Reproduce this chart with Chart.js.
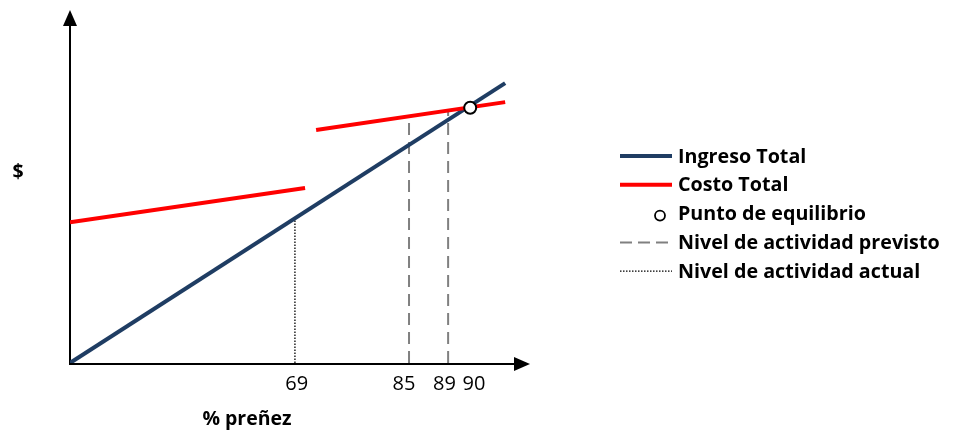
<!DOCTYPE html>
<html>
<head>
<meta charset="utf-8">
<script src="https://cdn.jsdelivr.net/npm/chart.js@4/dist/chart.umd.min.js"></script>
<style>
  html, body { margin: 0; padding: 0; background: #fff; }
  #wrap { width: 954px; height: 434px; }
</style>
</head>
<body>
<div id="wrap"><canvas id="chart" width="954" height="434"></canvas></div>
<script>
// --- DATA (schematic axis units, 0-100 on both axes) ---
const ingresoX = [0, 94.6];
const ingresoY = [0, 79.3];
const costoBajoX = [0, 51.1];
const costoBajoY = [39.9, 49.6];
const costoAltoX = [53.5, 94.6];
const costoAltoY = [66.0, 73.9];
const equilibrioX = [87.0];
const equilibrioY = [72.3];
const previstoX = [73.7, 82.2];
const previstoTop = [69.9, 71.7];
const actualX = [48.9];
const actualTop = [41.0];
const tickPositions = [49.3, 72.6, 81.4, 87.8];
const tickLabels = ['69', '85', '89', '90'];

const xTitle = '% preñez';
const yTitle = '$';

const legendItems = [
  { text: 'Ingreso Total', kind: 'line', color: '#1f3d63' },
  { text: 'Costo Total', kind: 'line', color: '#ff0000' },
  { text: 'Punto de equilibrio', kind: 'circle', color: '#000' },
  { text: 'Nivel de actividad previsto', kind: 'dash', color: '#808080' },
  { text: 'Nivel de actividad actual', kind: 'dot', color: '#000' }
];

const pts = (xs, ys) => xs.map((x, i) => ({ x: x, y: ys[i] }));

// vertical guide lines: pairs of points separated by null gaps
function verticals(xs, tops) {
  const out = [];
  xs.forEach((x, i) => {
    out.push({ x: x, y: 0 }, { x: x, y: tops[i] });
    if (i < xs.length - 1) out.push({ x: x, y: null });
  });
  return out;
}

// --- AXES, TICKS, TITLES, LEGEND ---
const decorPlugin = {
  id: 'decor',
  beforeDatasetsDraw(chart) {
    const ctx = chart.ctx;
    const xs = chart.scales.x, ys = chart.scales.y;
    const ox = xs.getPixelForValue(0), oy = ys.getPixelForValue(0);
    const xEnd = xs.getPixelForValue(100), yEnd = ys.getPixelForValue(100);
    ctx.save();
    ctx.strokeStyle = '#000';
    ctx.fillStyle = '#000';
    ctx.lineWidth = 2;
    ctx.beginPath();
    ctx.moveTo(ox, oy + 1);
    ctx.lineTo(ox, yEnd + 14);
    ctx.moveTo(ox - 1, oy + 1);
    ctx.lineTo(xEnd - 14, oy + 1);
    ctx.stroke();
    // arrow heads
    ctx.beginPath();
    ctx.moveTo(ox, yEnd);
    ctx.lineTo(ox - 7, yEnd + 16);
    ctx.lineTo(ox + 7, yEnd + 16);
    ctx.closePath();
    ctx.fill();
    ctx.beginPath();
    ctx.moveTo(xEnd, oy + 1);
    ctx.lineTo(xEnd - 16, oy - 6);
    ctx.lineTo(xEnd - 16, oy + 8);
    ctx.closePath();
    ctx.fill();

    // tick labels
    ctx.font = '20px "Open Sans"';
    ctx.textAlign = 'center';
    ctx.textBaseline = 'middle';
    tickPositions.forEach((v, i) => {
      ctx.fillText(tickLabels[i], xs.getPixelForValue(v), oy + 21);
    });

    // titles
    ctx.font = 'bold 19.5px "Open Sans"';
    ctx.fillText(xTitle, 247, 419);
    ctx.fillText(yTitle, 18, 172);

    // legend
    const lx = 620, lw = 52, tx = 678;
    let ly = 156;
    ctx.textAlign = 'left';
    ctx.font = 'bold 19.7px "Open Sans"';
    legendItems.forEach(item => {
      ctx.strokeStyle = item.color;
      if (item.kind === 'line') {
        ctx.lineWidth = 4;
        ctx.setLineDash([]);
        ctx.beginPath(); ctx.moveTo(lx, ly); ctx.lineTo(lx + lw, ly); ctx.stroke();
      } else if (item.kind === 'dash') {
        ctx.lineWidth = 2;
        ctx.setLineDash([12, 6]);
        ctx.beginPath(); ctx.moveTo(lx, ly); ctx.lineTo(lx + lw, ly); ctx.stroke();
      } else if (item.kind === 'dot') {
        ctx.lineWidth = 1.2;
        ctx.setLineDash([1.5, 1.5]);
        ctx.beginPath(); ctx.moveTo(lx, ly); ctx.lineTo(lx + lw, ly); ctx.stroke();
      } else {
        ctx.lineWidth = 1.8;
        ctx.setLineDash([]);
        ctx.fillStyle = '#fff';
        ctx.beginPath(); ctx.arc(lx + 40, ly + 2, 5, 0, Math.PI * 2); ctx.fill(); ctx.stroke();
      }
      ctx.setLineDash([]);
      ctx.fillStyle = '#000';
      ctx.fillText(item.text, tx, ly + 1);
      ly += 28.8;
    });
    ctx.restore();
  }
};

new Chart(document.getElementById('chart'), {
  type: 'line',
  data: {
    datasets: [
      {
        label: 'Punto de equilibrio',
        data: pts(equilibrioX, equilibrioY),
        showLine: false,
        pointRadius: 6,
        pointBackgroundColor: '#fff',
        pointBorderColor: '#000',
        pointBorderWidth: 2
      },
      {
        label: 'Costo Total',
        data: pts(costoAltoX, costoAltoY),
        borderColor: '#ff0000',
        borderWidth: 4,
        pointRadius: 0
      },
      {
        label: 'Costo Total (bajo)',
        data: pts(costoBajoX, costoBajoY),
        borderColor: '#ff0000',
        borderWidth: 4,
        pointRadius: 0
      },
      {
        label: 'Ingreso Total',
        data: pts(ingresoX, ingresoY),
        borderColor: '#1f3d63',
        borderWidth: 4,
        pointRadius: 0
      },
      {
        label: 'Nivel de actividad previsto',
        data: verticals(previstoX, previstoTop),
        borderColor: '#808080',
        borderWidth: 2,
        borderDash: [12, 7],
        pointRadius: 0,
        spanGaps: false
      },
      {
        label: 'Nivel de actividad actual',
        data: verticals(actualX, actualTop),
        borderColor: '#000',
        borderWidth: 1.3,
        borderDash: [1.5, 1.5],
        pointRadius: 0,
        spanGaps: false
      }
    ]
  },
  options: {
    responsive: false,
    animation: false,
    layout: { padding: { left: 70, top: 10, right: 424, bottom: 71 } },
    scales: {
      x: { type: 'linear', min: 0, max: 100, display: false },
      y: { type: 'linear', min: 0, max: 100, display: false }
    },
    plugins: {
      legend: { display: false },
      tooltip: { enabled: false }
    }
  },
  plugins: [decorPlugin]
});
</script>
</body>
</html>
